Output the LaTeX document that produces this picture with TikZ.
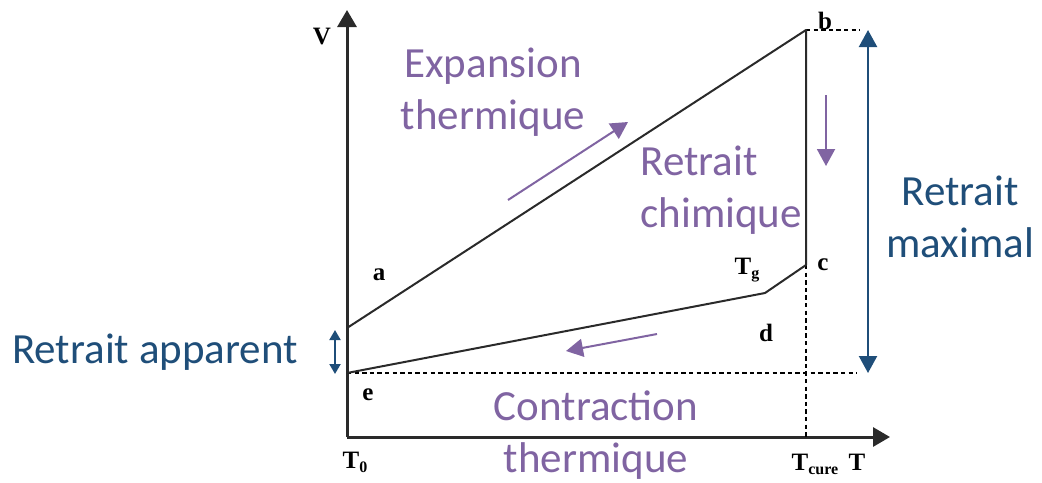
\documentclass[tikz,border=0pt]{standalone}
\usepackage{fontspec}
\setmainfont{Carlito}
\newfontfamily\serifbf{Liberation Serif}[BoldFont={Liberation Serif Bold}]
\usetikzlibrary{arrows.meta,positioning}
\definecolor{rcink}  {HTML}{2A2A2A}
\definecolor{rcplum} {HTML}{8064A2}
\definecolor{rcnavy} {HTML}{1F4E79}
\newcommand{\lowsub}[1]{\raisebox{-0.35ex}{\fontsize{8pt}{8pt}\selectfont #1}}
\tikzset{
  rcaxis/.style={draw=rcink, line width=1.5pt, -{Triangle[length=8.5pt,width=9.5pt]}},
  rccurve/.style={draw=rcink, line width=1pt, line join=round},
  rcguide/.style={draw=black, line width=0.6pt, dash pattern=on 2.2pt off 1.6pt},
  rcplumarrow/.style={draw=rcplum, line width=1pt, -{Triangle[length=8.5pt,width=9pt]}},
  rcnavyarrow/.style={draw=rcnavy, line width=1.1pt, {Triangle[length=8.5pt,width=9pt]}-{Triangle[length=8.5pt,width=9pt]}},
  rcsmallarrow/.style={draw=rcnavy, line width=1pt, {Triangle[length=5pt,width=5.5pt]}-{Triangle[length=5pt,width=5.5pt]}},
  rcmark/.style={font=\serifbf\bfseries\fontsize{12.5pt}{12.5pt}\selectfont, inner sep=1pt},
  rcplumtext/.style={text=rcplum, font=\fontsize{21.5pt}{26pt}\selectfont, inner sep=0pt},
  rcnavytext/.style={text=rcnavy, font=\fontsize{21.5pt}{26pt}\selectfont, inner sep=0pt},
}
\begin{document}
\begin{tikzpicture}[x=0.5pt,y=-0.5pt]
  \useasboundingbox (0,0) rectangle (1042,482);
  % axes
  \coordinate (origin) at (347,437);
  \coordinate (vtop)   at (347,10);
  \coordinate (tright) at (890,437);
  \draw[rcaxis] (origin) -- (vtop);
  \draw[rcaxis] (origin) -- (tright);
  % curve points
  \coordinate (pa)  at (347,328);
  \coordinate (pb)  at (806,30);
  \coordinate (pc)  at (806,265);
  \coordinate (ptg) at (765,293);
  \coordinate (pe)  at (347,373);
  \coordinate (pcure) at (806,437);
  \coordinate (bend) at (860,30);
  \coordinate (eend) at (857,373);
  \draw[rcguide] (pb) -- (bend);
  \draw[rcguide] (pe) -- (eend);
  \draw[rcguide] (pc) -- (pcure);
  \draw[rccurve] (pa) -- (pb) -- (pc) -- (ptg) -- (pe);
  % point labels
  \node[rcmark] (lv)   at (322,37)  {V};
  \node[rcmark] (la)   at (379,275) {a};
  \node[rcmark] (lb)   at (825,21)  {b};
  \node[rcmark] (lc)   at (823,265) {c};
  \node[rcmark] (ltg)  at (747,270) {T\lowsub{g}};
  \node[rcmark] (ld)   at (766,333) {d};
  \node[rcmark] (le)   at (368,395) {e};
  \node[rcmark] (lt0)  at (355,462) {T\lowsub{0}};
  \node[rcmark] (ltc)  at (815,464) {T\lowsub{cure}};
  \node[rcmark] (lt)   at (857,462) {T};
  % process arrows
  \coordinate (exp1) at (508,200);
  \coordinate (exp2) at (628,122);
  \coordinate (chi1) at (826,95);
  \coordinate (chi2) at (826,166);
  \coordinate (con1) at (657,334);
  \coordinate (con2) at (566,351);
  \draw[rcplumarrow] (exp1) -- (exp2);
  \draw[rcplumarrow] (chi1) -- (chi2);
  \draw[rcplumarrow] (con1) -- (con2);
  \coordinate (max1) at (868,30);
  \coordinate (max2) at (868,373);
  \coordinate (app1) at (335,330);
  \coordinate (app2) at (335,374);
  \draw[rcnavyarrow] (max1) -- (max2);
  \draw[rcsmallarrow] (app1) -- (app2);
  % texts
  \node[rcplumtext, align=center] (texp) at (493,92)  {Expansion\\thermique};
  \node[rcplumtext, align=left, anchor=west] (tchi) at (640,190) {Retrait\\chimique};
  \node[rcplumtext, align=center] (tcon) at (596,435) {Contraction\\thermique};
  \node[rcnavytext, align=center] (tmax) at (960,217) {Retrait\\maximal};
  \node[rcnavytext] (tapp) at (155,352) {Retrait apparent};
\end{tikzpicture}
\end{document}
